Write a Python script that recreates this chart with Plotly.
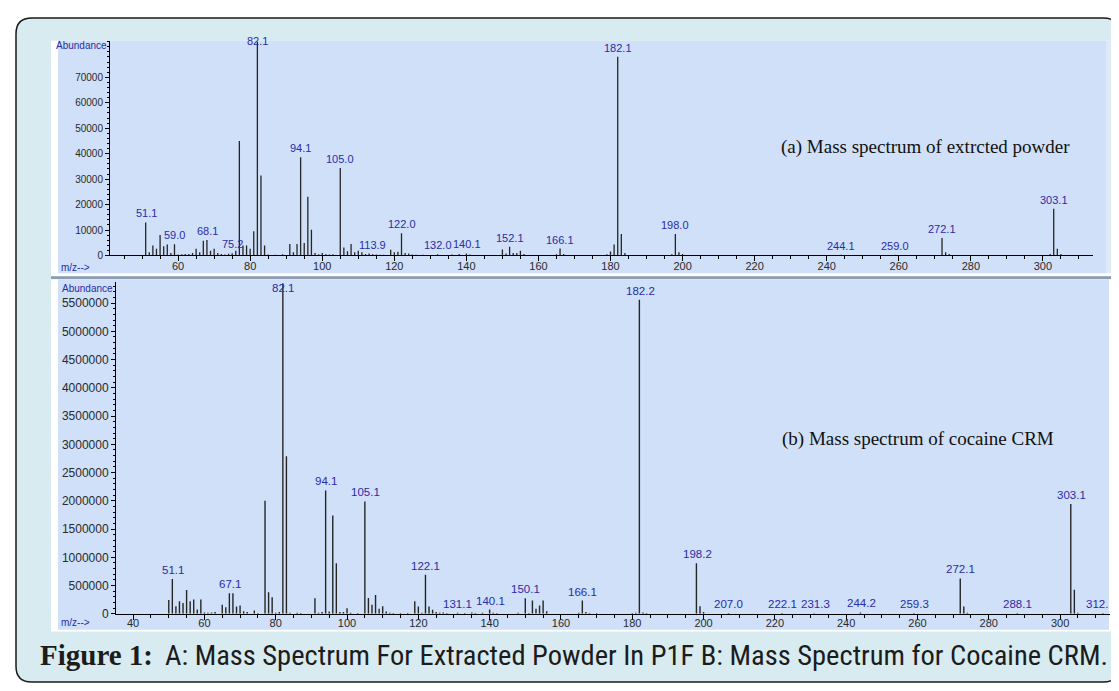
import plotly.graph_objects as go

W, H = 1119, 691

# ---------------- data: (a) extracted powder ----------------
mz_a = [51, 52, 53, 54, 55, 56, 57, 58, 59, 60, 61, 62, 63, 64, 65, 66, 67, 68, 69, 70,
        71, 72, 73, 74, 75, 76, 77, 78, 79, 80, 81, 82, 83, 84, 85, 87, 89, 91, 92, 93,
        94, 95, 96, 97, 98, 99, 100, 101, 102, 103, 105, 106, 107, 108, 109, 110, 111, 112, 113, 114,
        115, 116, 117, 119, 120, 121, 122, 123, 124, 125, 126, 128, 132, 136, 138, 140, 141, 150, 151, 152,
        153, 154, 155, 156, 165, 166, 167, 179, 180, 181, 182, 183, 184, 197, 198, 199, 200, 244, 259, 272,
        273, 274, 302, 303, 304, 305]
ab_a = [13000, 1300, 3900, 2600, 8000, 3600, 4300, 1000, 4400, 400, 500, 600, 600, 1000, 2600, 1300, 5800, 6100, 1900, 2600,
        1000, 600, 400, 700, 900, 1900, 45000, 3900, 3900, 2600, 9500, 84000, 31400, 3900, 400, 300, 500, 4500, 1300, 4500,
        38600, 4900, 23100, 10100, 1000, 500, 1000, 500, 400, 500, 34400, 3100, 1700, 4500, 1300, 1900, 1300, 600, 800, 500,
        400, 300, 300, 2200, 1300, 1500, 8700, 1000, 800, 400, 300, 300, 500, 400, 600, 800, 400, 2300, 800, 3400,
        1000, 1000, 1900, 600, 500, 2700, 600, 500, 1600, 4300, 78100, 8400, 1000, 500, 8400, 1300, 600, 300, 300, 6900,
        1300, 600, 600, 18400, 2600, 600]
labels_a = ["51.1", "59.0", "68.1", "75.2", "82.1", "94.1", "105.0", "113.9", "122.0", "132.0",
            "140.1", "152.1", "166.1", "182.1", "198.0", "244.1", "259.0", "272.1", "303.1"]
yticks_a = [0, 10000, 20000, 30000, 40000, 50000, 60000, 70000]

# ---------------- data: (b) cocaine CRM ----------------
mz_b = [50, 51, 52, 53, 54, 55, 56, 57, 58, 59, 60, 61, 62, 63, 65, 66, 67, 68, 69, 70,
        71, 72, 74, 75, 77, 78, 79, 80, 81, 82, 83, 84, 86, 87, 91, 92, 93, 94, 95, 96,
        97, 98, 99, 100, 101, 103, 105, 106, 107, 108, 109, 110, 111, 112, 113, 115, 117, 119, 120, 121,
        122, 123, 124, 125, 126, 127, 128, 131, 133, 135, 136, 138, 140, 141, 142, 148, 150, 151, 152, 153,
        154, 155, 156, 165, 166, 167, 168, 170, 180, 181, 182, 183, 184, 198, 199, 200, 207, 222, 231, 244,
        259, 272, 273, 274, 288, 303, 304, 305, 312]
ab_b = [246000, 614000, 135000, 222000, 193000, 421000, 222000, 252000, 76000, 252000, 25000, 20000, 25000, 30000, 158000, 117000, 363000, 363000, 129000, 146000,
        47000, 30000, 58000, 15000, 2000000, 380000, 292000, 20000, 30000, 5850000, 2790000, 20000, 20000, 15000, 275000, 20000, 30000, 2183000, 40000, 1738000,
        895000, 30000, 30000, 100000, 20000, 15000, 1990000, 281000, 158000, 333000, 88000, 135000, 40000, 20000, 15000, 15000, 15000, 222000, 129000, 20000,
        690000, 129000, 70000, 30000, 20000, 25000, 15000, 20000, 15000, 25000, 15000, 20000, 76000, 20000, 15000, 20000, 275000, 15000, 234000, 88000,
        146000, 234000, 47000, 20000, 234000, 30000, 15000, 15000, 15000, 20000, 5560000, 25000, 15000, 895000, 135000, 30000, 15000, 15000, 10000, 25000,
        15000, 626000, 129000, 20000, 15000, 1943000, 427000, 20000, 15000]
labels_b = ["51.1", "67.1", "82.1", "94.1", "105.1", "122.1", "131.1", "140.1", "150.1", "166.1",
            "182.2", "198.2", "207.0", "222.1", "231.3", "244.2", "259.3", "272.1", "288.1", "303.1", "312."]
yticks_b = [0, 500000, 1000000, 1500000, 2000000, 2500000, 3000000, 3500000, 4000000,
            4500000, 5000000, 5500000]

title_a = "(a) Mass spectrum of extrcted powder"
title_b = "(b) Mass spectrum of cocaine CRM"
caption_bold = "Figure 1:"
caption_rest = "A: Mass Spectrum For Extracted Powder In P1F B: Mass Spectrum for Cocaine CRM."

# ---------------- styling ----------------
CARD = "#d8ebf0"
PANEL = "#cfe0f8"
LBL = "#2b2ba8"
TXT = "#2a2a2a"

XR_A = [41.1, 313.9]
XR_B = [35.2, 314.0]
YMAX_A = 84400
YMAX_B = 5870000


def px(x):
    return x / W


def py(y):
    return 1 - y / H


def sticks(mz, ab):
    xs, ys = [], []
    for m, a in zip(mz, ab):
        xs += [m, m, None]
        ys += [0, a, None]
    return xs, ys


fig = go.Figure()
xa, ya = sticks(mz_a, ab_a)
xb, yb = sticks(mz_b, ab_b)
fig.add_trace(go.Scatter(x=xa, y=ya, mode="lines", line=dict(color="#262626", width=1.3),
                         xaxis="x", yaxis="y", hoverinfo="skip", showlegend=False))
fig.add_trace(go.Scatter(x=xb, y=yb, mode="lines", line=dict(color="#262626", width=1.4),
                         xaxis="x2", yaxis="y2", hoverinfo="skip", showlegend=False))

shapes = []
# card with rounded corners
x0, y0, x1, y1, r = 8, 10, 1111, 681, 16
path = (f"M {px(x0+r)},{py(y0)} L {px(x1-r)},{py(y0)} Q {px(x1)},{py(y0)} {px(x1)},{py(y0+r)} "
        f"L {px(x1)},{py(y1-r)} Q {px(x1)},{py(y1)} {px(x1-r)},{py(y1)} "
        f"L {px(x0+r)},{py(y1)} Q {px(x0)},{py(y1)} {px(x0)},{py(y1-r)} "
        f"L {px(x0)},{py(y0+r)} Q {px(x0)},{py(y0)} {px(x0+r)},{py(y0)} Z")
shapes.append(dict(type="path", path=path, xref="paper", yref="paper", layer="below",
                   fillcolor=CARD, line=dict(color="#1a1a1a", width=1.5)))


def rect(xa0, ya0, xa1, ya1, fill):
    return dict(type="rect", xref="paper", yref="paper", layer="below",
                x0=px(xa0), x1=px(xa1), y0=py(ya1), y1=py(ya0), fillcolor=fill,
                line=dict(width=0, color=fill))


shapes.append(rect(43, 33, 1103, 271, "#ffffff"))
shapes.append(rect(50, 33, 1098, 268, PANEL))
shapes.append(rect(1098, 33, 1103, 268, "#dde9f8"))
shapes.append(rect(43, 271, 1103, 274, "#8c9cb2"))
shapes.append(rect(43, 274, 1103, 630, "#ffffff"))
shapes.append(rect(50, 274, 1101, 628, PANEL))
shapes.append(dict(type="line", xref="paper", yref="paper", x0=px(1104), x1=px(1104),
                   y0=py(33), y1=py(272), line=dict(color="#1a1a1a", width=1.5)))

annotations = []


def peak_labels(labels, mz, ab, xref, yref, xr, ymax, size):
    d = dict(zip(mz, ab))
    for t in labels:
        v = float(t)
        h = d.get(round(v), 0)
        yv = min(h, ymax * 0.955)
        xv, anc = v, "center"
        if v > xr[1] - 3:
            xv, anc = xr[1], "right"
        annotations.append(dict(x=xv, y=yv, xref=xref, yref=yref, text=t, showarrow=False,
                                yanchor="bottom", xanchor=anc, yshift=1,
                                font=dict(family="Liberation Sans, Arial", size=size, color=LBL)))


peak_labels(labels_a, mz_a, ab_a, "x", "y", XR_A, YMAX_A, 11)
peak_labels(labels_b, mz_b, ab_b, "x2", "y2", XR_B, YMAX_B, 11.5)

for txt, xx, yy, anc in [("Abundance", 101, 38, "right"), ("m/z-->", 51, 262, "left"),
                         ("Abundance", 107, 283, "right"), ("m/z-->", 51, 621, "left")]:
    annotations.append(dict(x=px(xx), y=py(yy), xref="paper", yref="paper", text=txt,
                            showarrow=False, xanchor=anc, yanchor="middle",
                            font=dict(family="Liberation Sans, Arial", size=10, color=LBL)))

annotations.append(dict(x=px(917), y=py(140), xref="paper", yref="paper", text=title_a,
                        showarrow=False, xanchor="center", yanchor="middle",
                        font=dict(family="Liberation Serif, Times New Roman", size=19, color="#111")))
annotations.append(dict(x=px(910), y=py(435), xref="paper", yref="paper", text=title_b,
                        showarrow=False, xanchor="center", yanchor="middle",
                        font=dict(family="Liberation Serif, Times New Roman", size=19, color="#111")))

annotations.append(dict(x=px(30), y=py(654), xref="paper", yref="paper", text="<b>" + caption_bold + "</b>",
                        showarrow=False, xanchor="left", yanchor="middle",
                        font=dict(family="Liberation Serif", size=29, color="#1c1c1c")))
annotations.append(dict(x=px(1102), y=py(654), xref="paper", yref="paper", text=caption_rest,
                        showarrow=False, xanchor="right", yanchor="middle",
                        font=dict(family="Roboto Condensed, DejaVu Sans Condensed, Roboto",
                                  size=28.5, color="#1c1c1c")))

axis_common = dict(showline=True, linecolor="black", linewidth=1, showgrid=False, zeroline=False,
                   ticks="outside", tickcolor="black", fixedrange=True)

fig.update_layout(
    width=W, height=H, margin=dict(l=0, r=0, t=0, b=0),
    paper_bgcolor="white", plot_bgcolor="rgba(0,0,0,0)",
    shapes=shapes, annotations=annotations, showlegend=False,
    xaxis=dict(domain=[px(102), px(1085)], range=XR_A, anchor="y",
               dtick=20, tick0=0, ticklen=5, tickwidth=1, ticklabelstandoff=-5,
               minor=dict(dtick=5, tick0=0, ticklen=3, ticks="outside", tickcolor="black"),
               tickfont=dict(family="Liberation Sans, Arial", size=11, color=TXT), **axis_common),
    yaxis=dict(domain=[py(250), py(33)], range=[0, YMAX_A], anchor="x",
               tickmode="array", tickvals=yticks_a, ticktext=[str(v) for v in yticks_a],
               ticklen=4, tickwidth=1,
               minor=dict(dtick=2000, tick0=0, ticklen=2, ticks="outside", tickcolor="black"),
               tickfont=dict(family="Liberation Sans, Arial", size=10, color=TXT), **axis_common),
    xaxis2=dict(domain=[px(108), px(1102)], range=XR_B, anchor="y2",
                dtick=20, tick0=0, ticklen=5, tickwidth=1, ticklabelstandoff=-6,
                minor=dict(dtick=5, tick0=0, ticklen=3, ticks="outside", tickcolor="black"),
                tickfont=dict(family="Liberation Sans, Arial", size=11, color=TXT), **axis_common),
    yaxis2=dict(domain=[py(612), py(277)], range=[0, YMAX_B], anchor="x2",
                tickmode="array", tickvals=yticks_b, ticktext=[str(v) for v in yticks_b],
                ticklen=4, tickwidth=1,
                minor=dict(dtick=100000, tick0=0, ticklen=2, ticks="outside", tickcolor="black"),
                tickfont=dict(family="Liberation Sans, Arial", size=12, color=TXT), **axis_common),
)

fig.write_html("out.html")
